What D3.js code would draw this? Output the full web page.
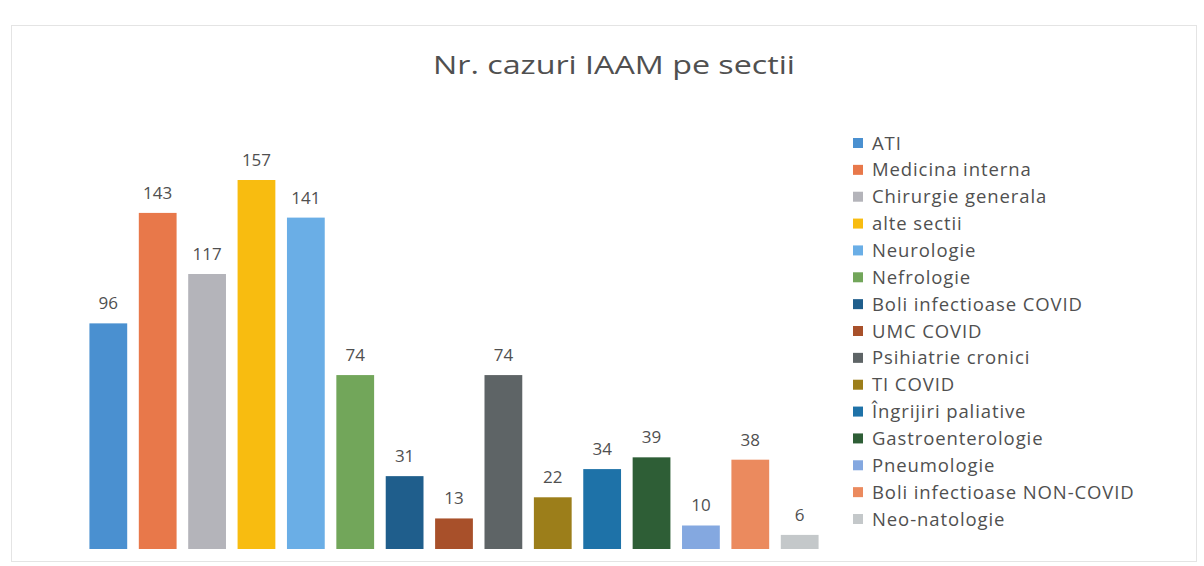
<!DOCTYPE html>
<html><head><meta charset="utf-8">
<script src="https://cdn.jsdelivr.net/npm/d3@7"></script>
<style>body{margin:0;background:#fff}svg{display:block}</style>
</head><body><svg id="c" width="1204" height="566"></svg>
<script>
const categories = ["ATI","Medicina interna","Chirurgie generala","alte sectii","Neurologie","Nefrologie","Boli infectioase COVID","UMC COVID","Psihiatrie cronici","TI COVID","Îngrijiri paliative","Gastroenterologie","Pneumologie","Boli infectioase NON-COVID","Neo-natologie"];
const values = [96,143,117,157,141,74,31,13,74,22,34,39,10,38,6];
const colors = ["#4a90d0","#e8784a","#b4b4ba","#f8bc10","#6aaee6","#72a65a","#1f5e8c","#a8502a","#5e6466","#9c7e1a","#1e72a8","#2e5e36","#84a8e0","#eb8a5e","#c4c8ca"];
const title = "Nr. cazuri IAAM pe sectii";

const svg = d3.select("#c");
const font = "'Open Sans', 'DejaVu Sans', sans-serif";

svg.append("rect").attr("x",11.5).attr("y",25.5).attr("width",1185).attr("height",536)
  .attr("fill","#fff").attr("stroke","#e4e4e4");

svg.append("text").attr("x",433).attr("y",74)
  .attr("font-family",font).attr("font-size",25).attr("fill","#505050")
  .attr("textLength",362).attr("lengthAdjust","spacingAndGlyphs").text(title);

const x = d3.scaleBand().domain(categories).range([83.5,824.5]).paddingInner(0.235).paddingOuter(0.12);
const y = d3.scaleLinear().domain([0,157]).range([549,180]);

svg.selectAll("rect.bar").data(values).join("rect").attr("class","bar")
  .attr("x",(d,i)=>x(categories[i])).attr("width",x.bandwidth())
  .attr("y",d=>y(d)).attr("height",d=>y(0)-y(d)).attr("fill",(d,i)=>colors[i]);

svg.selectAll("text.lbl").data(values).join("text").attr("class","lbl")
  .attr("x",(d,i)=>x(categories[i])+x.bandwidth()/2).attr("y",d=>y(d)-14)
  .attr("text-anchor","middle").attr("font-family",font).attr("font-size",17)
  .attr("fill","#505050").text(d=>d);

const ly = d3.scalePoint().domain(categories).range([143,519]);
const lg = svg.append("g");
categories.forEach((c,i)=>{
  lg.append("rect").attr("x",853).attr("y",ly(c)-5).attr("width",10).attr("height",10).attr("fill",colors[i]);
  lg.append("text").attr("x",872).attr("y",ly(c)+6.5).attr("font-family",font).attr("font-size",18.5)
    .attr("letter-spacing",0.9).attr("fill","#505050").text(c);
});
</script></body></html>
